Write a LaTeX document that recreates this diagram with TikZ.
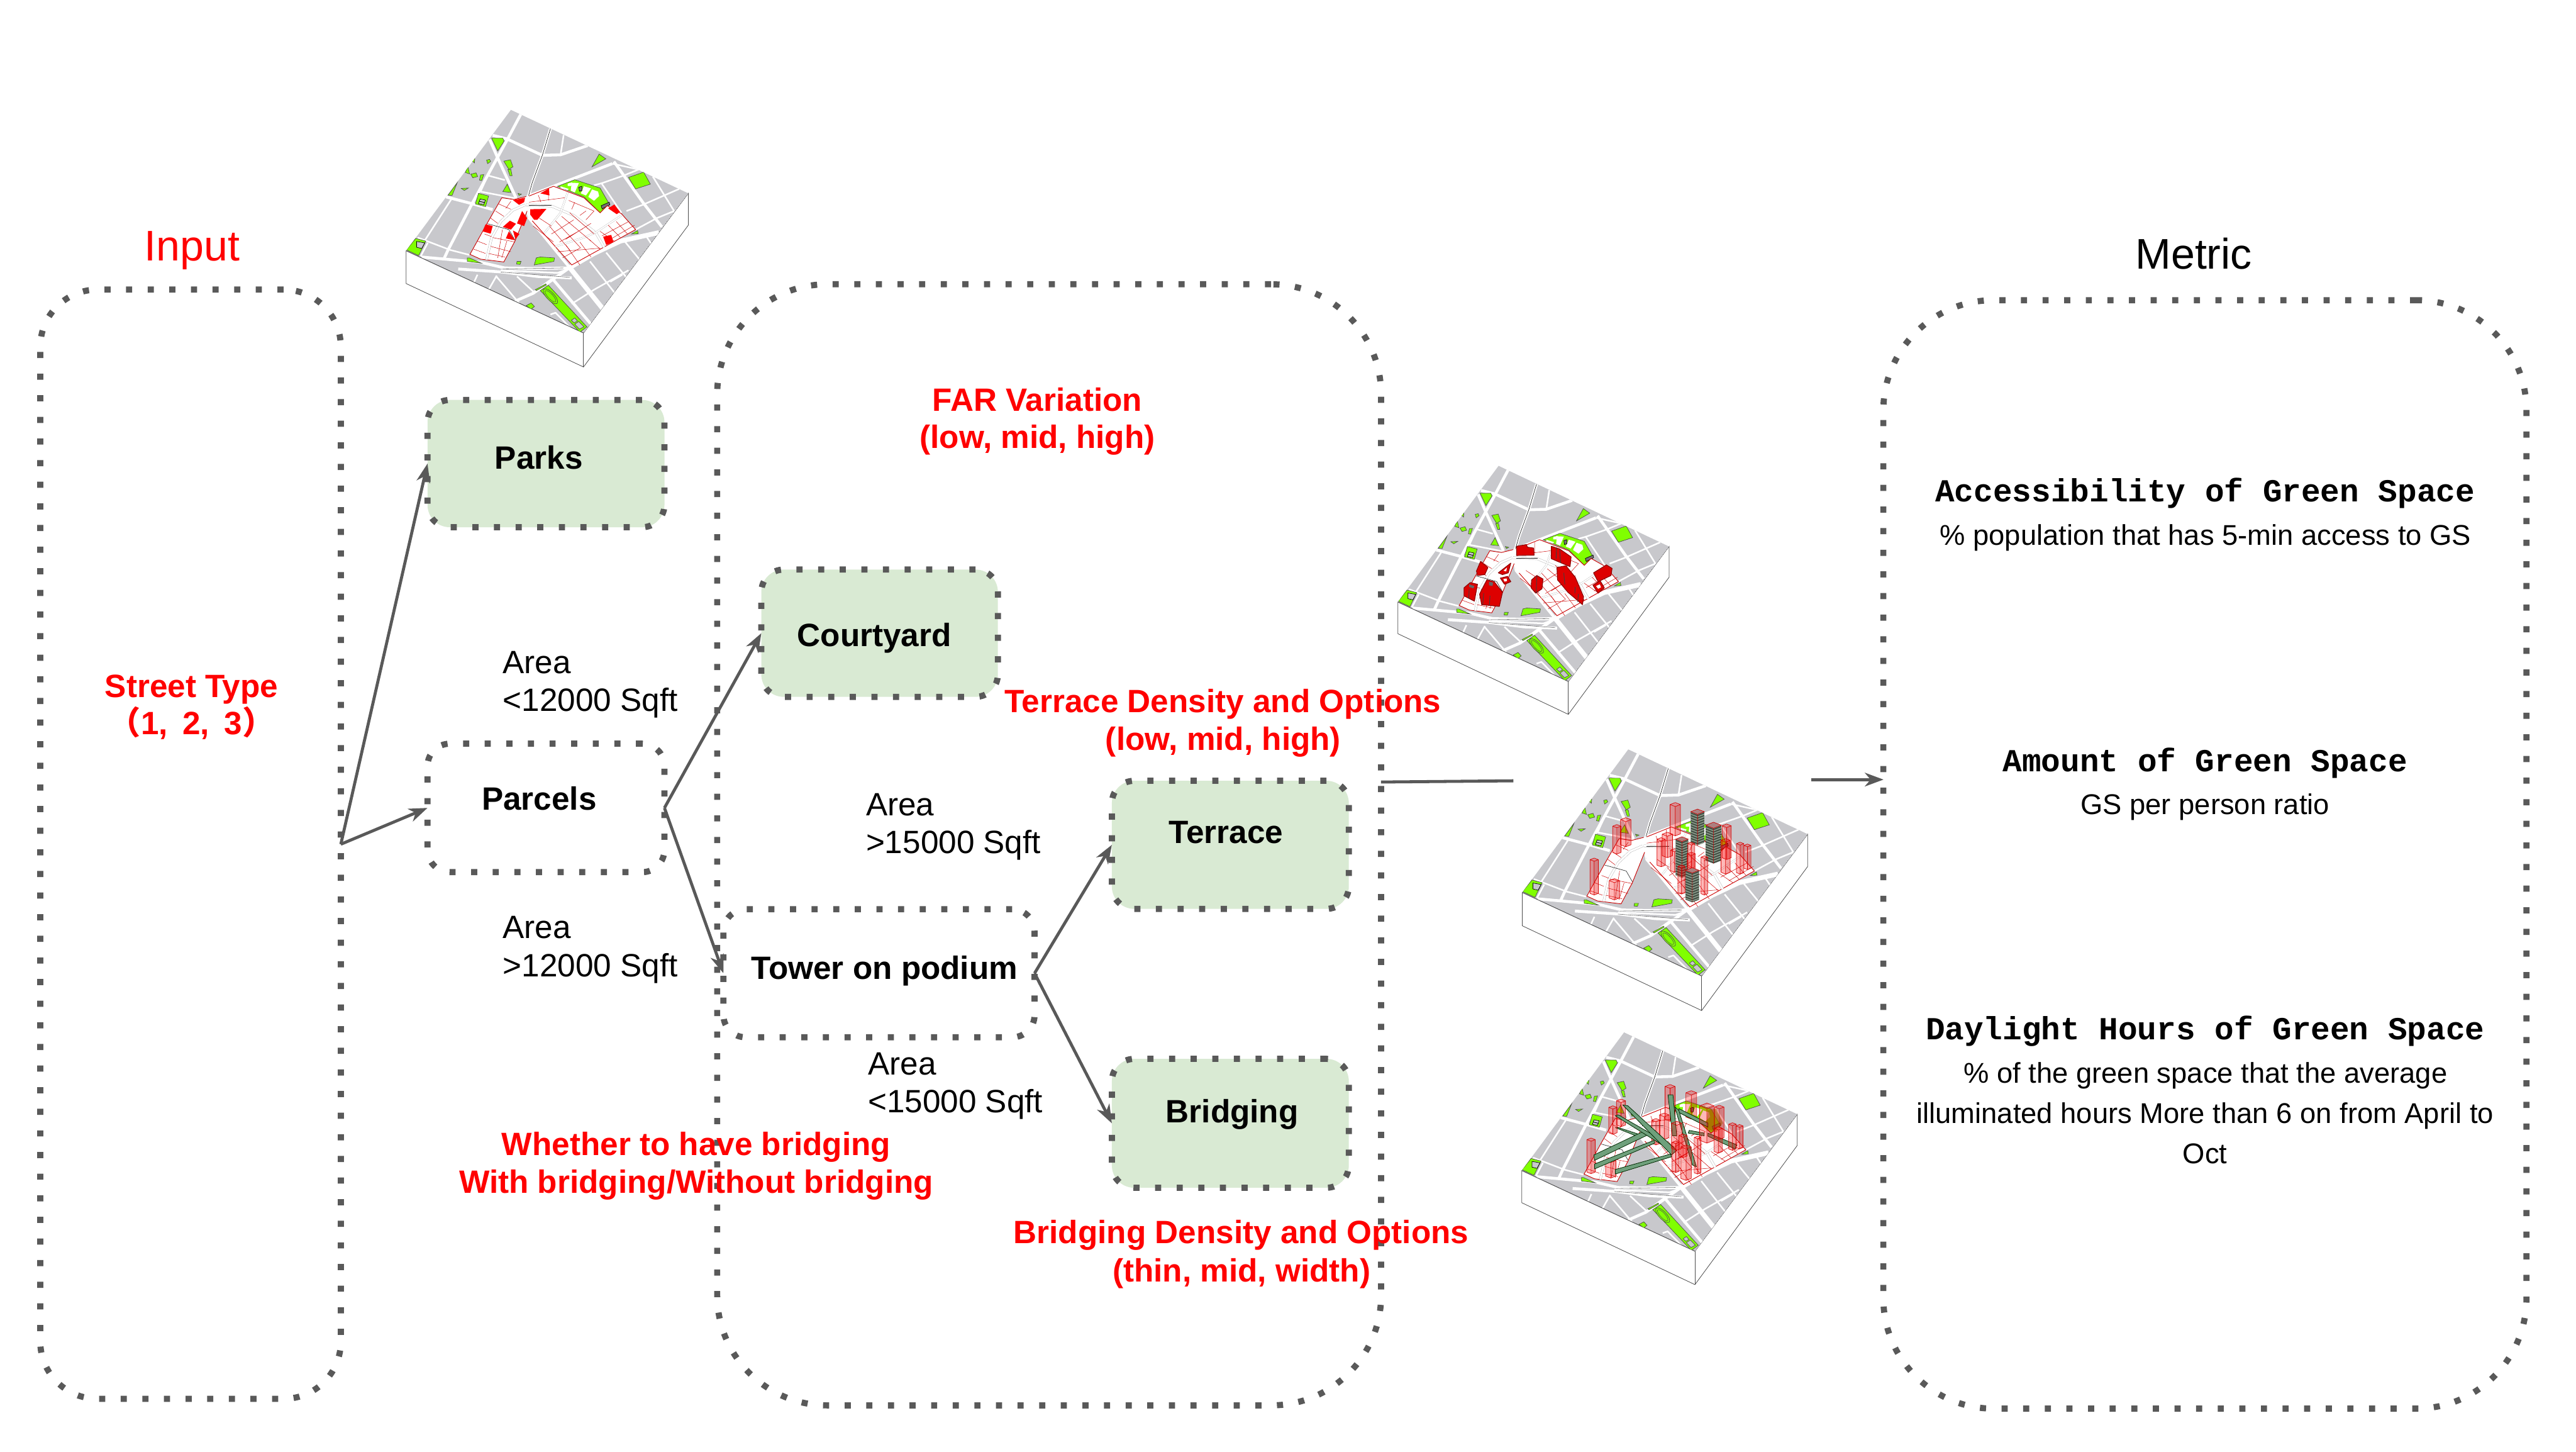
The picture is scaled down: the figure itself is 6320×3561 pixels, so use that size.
\documentclass[tikz,border=0pt]{standalone}
\usepackage{fontspec}
\setmainfont{Liberation Sans}
\newfontfamily\monof{Liberation Mono}
\newfontfamily\cjkf{Noto Sans CJK SC}
\usetikzlibrary{arrows.meta}
\definecolor{linegrey}{HTML}{595959}
\definecolor{boxgreen}{HTML}{D9EAD3}
\definecolor{mapgreen}{HTML}{80FF00}
\definecolor{mapgrey}{HTML}{C8C8CC}
\definecolor{bridgegreen}{HTML}{6FA07C}
\definecolor{bldred}{HTML}{DD0000}
\definecolor{terrdark}{HTML}{465247}
\definecolor{terrlight}{HTML}{9CAE9C}
\tikzset{
  dotbox/.style={draw=linegrey,line width=4.27pt,dash pattern=on 4.27pt off 10.81pt,inner sep=0pt,outer sep=0pt},
  smallbox/.style={dotbox,rounded corners=15.6pt},
  flow/.style={draw=linegrey,line width=2.1pt},
  flowarrow/.style={flow,-{Stealth[length=13pt,width=9.5pt,inset=4pt]}},
  lab/.style={anchor=base,inner sep=0pt,font=\fontsize{22.5pt}{27pt}\selectfont,text=black},
  labl/.style={lab,anchor=base west},
  redb/.style={anchor=base,inner sep=0pt,font=\fontsize{22.5pt}{27pt}\selectfont\bfseries,text=red},
  boldb/.style={anchor=base,inner sep=0pt,font=\fontsize{22.5pt}{27pt}\selectfont\bfseries,text=black},
  title/.style={anchor=base,inner sep=0pt,font=\fontsize{29.9pt}{34pt}\selectfont},
  metrich/.style={anchor=base,inner sep=0pt,font=\monof\fontsize{22.4pt}{27pt}\selectfont\bfseries,text=black},
  metrict/.style={anchor=base,inner sep=0pt,font=\fontsize{19.9pt}{24pt}\selectfont,text=black},
  rdA/.style={draw=white,line width=3.3pt,line join=round},
  rdB/.style={draw=white,line width=2pt,line join=round},
  rdC/.style={draw=white,line width=1.1pt,line join=round},
  gp/.style={fill=mapgreen,draw=black!70,line width=.3pt},
  gridl/.style={draw=red!80!black,line width=.22pt},
  bld/.style={fill=bldred,draw=red!55!black,line width=.5pt,line join=round},
  brd/.style={fill=bridgegreen,draw=black!60!green!40!black,line width=.35pt,line join=round},
}
% base of every isometric block, in coordinates of a 1568-wide crop
\newcommand\citybase{%
  \draw[fill=white,draw=black!70,line width=.35pt] (73,865)--(73,1050)--(948,1522)--(1465,720)--(1465,540)--(948,1330)--cycle;
  \draw[black!70,line width=.35pt] (948,1330)--(948,1522);
  \begin{scope}
    \clip (590,68)--(1465,540)--(948,1330)--(73,865)--cycle;
    \fill[mapgrey] (590,68)--(1465,540)--(948,1330)--(73,865)--cycle;
    % main roads
    \draw[rdB] (640,90)--(575,230)--(520,345)--(400,595)--(280,860)--(258,915);
    \draw[rdB] (485,235)--(525,340)--(615,565);
    \draw[rdB] (500,212)--(570,232)--(745,325)--(835,322)--(968,270);
    \draw[rdB] (785,175)--(745,325)--(695,480)--(668,590)--(680,680)--(880,960);
    \draw[rdA] (880,960)--(1045,1195);
    \draw[rdC] (850,210)--(835,322);
    \draw[rdB] (670,558)--(800,500)--(1090,372);
    \draw[rdC] (1090,372)--(1220,405);
    \draw[rdB] (1098,360)--(1240,590)--(1335,730);
    \draw[rdC] (1220,405)--(1145,440)--(1040,482)--(1000,495);
    \draw[rdC] (1035,480)--(1135,650);
    \draw[rdC] (1420,515)--(1240,605)--(1160,640);
    \draw[rdC] (1395,640)--(1310,680)--(1205,745);
    \draw[rdA] (1320,762)--(1130,810)--(1000,880)--(880,960);
    \draw[rdB] (880,960)--(700,1105)--(610,1150);
    \draw[rdC] (1290,445)--(1395,640);
    \draw[rdC] (1250,770)--(1285,830);
    \draw[rdC] (1150,810)--(1225,915);
    \draw[rdC] (1060,875)--(1170,1030);
    \draw[rdC] (980,925)--(1100,1100);
    \draw[rdC] (1170,975)--(1000,1085)--(890,1165);
    \draw[rdC] (1140,1000)--(1080,1040);
    \draw[rdC] (130,790)--(290,860)--(385,888);
    \draw[rdB] (270,560)--(410,602)--(500,632);
    \draw[rdC] (295,575)--(135,860);
    \draw[rdC] (180,820)--(145,895);
    \draw[rdC] (440,530)--(620,570);
    \draw[rdC] (480,440)--(560,465);
    \draw[rdC] (500,380)--(440,530);
    \draw[rdB] (148,900)--(440,930)--(560,962)--(700,965)--(880,962);
    \draw[rdB] (330,968)--(550,985)--(720,1010)--(890,1018);
    \draw[rdC] (540,975)--(820,990)--(880,965);
    \draw[rdC] (425,1000)--(405,1050);
    \draw[rdC] (520,1005)--(480,1085);
    \draw[rdC] (518,1010)--(630,1160);
    \draw[rdC] (620,1010)--(700,1095);
    \draw[rdC] (700,1100)--(790,1025);
    \draw[rdC] (785,1225)--(810,1215)--(900,1320);
    \draw[rdB] (800,1030)--(985,1280);
    % dark edges
    \draw[black!85,line width=.3pt] (785,175)--(745,325)--(695,480)--(668,590)--(680,680);
    \draw[black!80,line width=.45pt] (73,865)--(948,1330);
    \draw[black!60,line width=.25pt] (550,968)--(850,962) (540,985)--(880,1015);
    % parks
    \path[gp] (495,228)--(550,228)--(556,245)--(525,300)--cycle;
    \path[gp] (555,358)--(588,350)--(600,390)--(580,405)--cycle;
    \path[gp] (575,405)--(590,405)--(596,440)--(585,440)--cycle;
    \path[gp] (470,352)--(485,348)--(490,360)--(475,372)--cycle;
    \path[gp] (392,432)--(418,424)--(426,445)--(402,452)--cycle;
    \path[gp] (440,436)--(456,434)--(446,468)--(435,465)--cycle;
    \path[gp] (365,422)--(378,390)--(386,430)--cycle;
    \path[gp] (395,352)--(412,345)--(410,368)--cycle;
    \path[gp] (280,550)--(325,480)--(300,552)--cycle;
    \path[gp] (345,512)--(380,510)--(360,524)--cycle;
    \path[gp] (550,530)--(572,488)--(590,535)--cycle;
    \path[gp] (625,540)--(642,545)--(630,552)--cycle;
    \path[gp] (430,540)--(480,555)--(465,615)--(415,600)--cycle;
    \draw[fill=mapgrey,draw=black,line width=.3pt] (438,572)--(464,578)--(456,604)--(430,598)--cycle;
    \draw[black,line width=.4pt] (434,585)--(460,592);
    \path[gp] (1025,318)--(1058,345)--(990,390)--cycle;
    \path[gp] (1170,450)--(1245,420)--(1278,488)--(1205,515)--cycle;
    \path[gp] (820,500)--(905,463)--(1030,510)--(1075,600)--(1030,650)--(950,560)--cycle;
    \fill[white] (890,480)--(925,482)--(905,535)--(885,525)--cycle;
    \fill[white] (950,500)--(985,512)--(960,552)--(935,540)--cycle;
    \fill[white] (990,518)--(1020,530)--(1025,555)--(1000,582)--(972,560)--cycle;
    \fill[white] (835,500)--(875,515)--(870,522)--(835,510)--cycle;
    \fill[white] (870,485)--(892,478)--(888,498)--(870,498)--cycle;
    \draw[fill=black!55,draw=black,line width=.3pt] (1035,610)--(1075,590)--(1078,605)--(1040,628)--cycle;
    \draw[fill=black!55,draw=black,line width=.3pt] (925,505)--(940,500)--(940,525)--(928,528)--cycle;
    \path[gp] (75,860)--(120,795)--(170,810)--(135,892)--cycle;
    \draw[fill=mapgrey,draw=black,line width=.3pt] (125,812)--(165,820)--(150,852)--(125,845)--cycle;
    \path[gp] (375,905)--(385,905)--(445,935)--(375,925)--cycle;
    \path[gp] (425,900)--(436,870)--(442,905)--cycle;
    \path[gp] (620,925)--(640,925)--(635,942)--(618,940)--cycle;
    \path[gp] (715,905)--(735,900)--(805,905)--(802,925)--(705,945)--cycle;
    \path[gp] (665,1175)--(690,1160)--(706,1180)--(690,1195)--cycle;
    \path[gp] (735,1090)--(775,1060)--(965,1295)--(930,1325)--cycle;
    \draw[fill=mapgreen,draw=black!70,line width=.3pt,rotate around={-52:(785,1122)}] (785,1122) ellipse (52 and 20);
    \draw[fill=mapgreen,draw=black!70,line width=.25pt,rotate around={-52:(785,1122)}] (785,1122) ellipse (40 and 13);
    \draw[fill=mapgrey,draw=black!70,line width=.3pt] (888,1258)--(905,1245)--(918,1262)--(902,1272)--cycle;
    \draw[fill=mapgrey,draw=black!70,line width=.3pt] (905,1280)--(925,1265)--(950,1295)--(928,1308)--cycle;
    \path[gp] (1185,770)--(1215,750)--(1218,768)--cycle;
    \path[gp] (710,1085)--(762,1052)--(765,1058)--(716,1090)--cycle;
    % the site
    \fill[white] (545,565)--(605,575)--(665,558)--(800,500)--(870,530)--(950,565)--(1030,650)--(1065,610)--(1135,655)--(1205,745)--(890,945)--(680,690)--(670,635)--(610,810)--(555,928)--(440,912)--(388,885)--(470,715)--cycle;
    \draw[red!80!black,line width=.4pt] (545,565)--(605,575)--(665,558);
    \draw[red!80!black,line width=.4pt] (680,555)--(800,500)--(950,565)--(1030,650)--(1065,610)--(1135,655)--(1205,745)--(890,945)--(695,695);
    \draw[red!80!black,line width=.4pt] (670,640)--(610,810)--(555,928)--(440,912)--(388,885)--(470,715)--(545,565);
    % internal streets of the site
    \draw[black!30,line width=1.7pt] (665,605)--(790,612)--(900,665)--(1010,765)--(1050,845);
    \draw[white,line width=1.3pt] (665,605)--(790,612)--(900,665)--(1010,765)--(1050,845);
    \draw[black!30,line width=1.2pt] (810,840)--(950,790)--(1010,760)--(1135,665);
    \draw[white,line width=.9pt] (810,840)--(950,790)--(1010,760)--(1135,665);
    \draw[black!30,line width=1.2pt] (870,535)--(835,650)--(755,765);
    \draw[white,line width=.9pt] (870,535)--(835,650)--(755,765);
    \draw[black!30,line width=1.7pt] (660,605)--(600,635)--(540,700)--(495,790)--(470,915);
    \draw[white,line width=1.3pt] (660,605)--(600,635)--(540,700)--(495,790)--(470,915);
    \draw[black!80,line width=.3pt] (680,607)--(790,607);
    \draw[black!80,line width=.3pt] (475,712)--(580,745)--(610,805);
    % parcel grid
    \draw[gridl] (530,600)--(590,630) (515,640)--(555,670) (490,680)--(525,710) (590,585)--(565,625);
    \draw[gridl] (460,770)--(495,785) (425,810)--(470,830) (405,855)--(465,880);
    \draw[gridl] (500,790)--(610,815) (490,840)--(590,870) (480,880)--(560,900);
    \draw[gridl] (548,745)--(525,905) (570,810)--(545,905);
    \draw[gridl] (680,590)--(855,565) (725,550)--(738,590) (775,515)--(775,580);
    \draw[gridl] (700,725)--(800,815) (730,680)--(790,725);
    \draw[gridl] (780,725)--(880,860) (810,695)--(935,850) (840,670)--(985,810) (880,650)--(1000,770);
    \draw[gridl] (790,770)--(900,690) (830,815)--(945,740) (860,800)--(985,710);
    \draw[gridl] (875,580)--(1000,640) (905,590)--(890,630) (960,640)--(930,665) (1000,640)--(960,690);
    \draw[gridl] (820,870)--(1030,850) (845,905)--(930,850) (860,830)--(930,945) (930,815)--(985,900) (975,800)--(1030,855);
    \draw[gridl] (1030,755)--(1100,810) (1070,720)--(1130,790) (1110,700)--(1165,770) (1040,780)--(1170,700) (1080,800)--(1200,720);
  \end{scope}
}
% a glass tower: x, top y, width, bottom y
\newcommand\glasst[4]{%
  \pgfmathsetmacro\twhw{#3/2}\pgfmathsetmacro\twd{#3*0.22}%
  \fill[red,fill opacity=.28] (#1,#2)--({#1+\twhw},{#2+\twd})--({#1+\twhw},{#4-\twd})--(#1,#4)--({#1-\twhw},{#4-\twd})--({#1-\twhw},{#2+\twd})--cycle;
  \fill[red!70!black,fill opacity=.12] (#1,{#2+2*\twd})--({#1+\twhw},{#2+\twd})--({#1+\twhw},{#4-\twd})--(#1,#4)--cycle;
  \draw[red!85!black,line width=.3pt,line join=round] (#1,#2)--({#1+\twhw},{#2+\twd})--({#1+\twhw},{#4-\twd})--(#1,#4)--({#1-\twhw},{#4-\twd})--({#1-\twhw},{#2+\twd})--cycle (#1,{#2+2*\twd})--(#1,#4) ({#1-\twhw},{#2+\twd})--(#1,{#2+2*\twd})--({#1+\twhw},{#2+\twd});
}
% a terraced tower: x, top y, width, bottom y
\newcommand\terrt[4]{%
  \pgfmathsetmacro\twhw{#3/2}\pgfmathsetmacro\twd{#3*0.22}\pgfmathtruncatemacro\twlast{(#4-#2-2*\twd)/14}%
  \fill[terrdark] ({#1+\twhw},{#2+\twd})--({#1+\twhw},{#4-\twd})--(#1,#4)--({#1-\twhw},{#4-\twd})--({#1-\twhw},{#2+\twd})--cycle;
  \foreach \twk in {0,...,\twlast}{%
    \draw[terrlight,line width=.5pt] ({#1-\twhw},{#2+14*\twk+\twd})--(#1,{#2+14*\twk+2*\twd})--({#1+\twhw},{#2+14*\twk+\twd});
  }
  \fill[red!35!black!50!white] (#1,#2)--({#1+\twhw},{#2+\twd})--(#1,{#2+2*\twd})--({#1-\twhw},{#2+\twd})--cycle;
  \draw[red!80!black,line width=.3pt] (#1,#2)--({#1+\twhw},{#2+\twd})--(#1,{#2+2*\twd})--({#1-\twhw},{#2+\twd})--cycle (#1,{#2+2*\twd})--(#1,#4);
}
\begin{document}
\begin{tikzpicture}[x=0.01cm,y=-0.01cm]
\useasboundingbox (0,0) rectangle (6320,3561);
\fill[white] (0,0) rectangle (6320,3561);

% ---- group boxes
\node[dotbox,rounded corners=40pt,minimum width=7.37cm,minimum height=27.19cm] (input) at (467.5,2070.5) {};
\node[dotbox,rounded corners=76.8pt,minimum width=16.28cm,minimum height=27.48cm] (design) at (2574,2072) {};
\node[dotbox,rounded corners=77pt,minimum width=15.77cm,minimum height=27.17cm] (metric) at (5409.5,2095.5) {};

% ---- small boxes
\node[smallbox,fill=boxgreen,minimum width=5.81cm,minimum height=3.12cm] (parks) at (1339.5,1137) {};
\node[smallbox,minimum width=5.81cm,minimum height=3.15cm] (parcels) at (1339.5,1981.5) {};
\node[smallbox,fill=boxgreen,minimum width=5.80cm,minimum height=3.12cm] (courtyard) at (2158,1553) {};
\node[smallbox,minimum width=7.63cm,minimum height=3.14cm] (tower) at (2156.5,2387) {};
\node[smallbox,fill=boxgreen,minimum width=5.81cm,minimum height=3.14cm] (terrace) at (3018.5,2072) {};
\node[smallbox,fill=boxgreen,minimum width=5.81cm,minimum height=3.16cm] (bridging) at (3018.5,2755) {};

% ---- isometric maps
\begin{scope}[shift={(960,240)},xscale=.4974,yscale=.4337]
  \citybase
  \fill[red] (600,578)--(660,565)--(655,590)--(630,605)--cycle;
  \fill[red] (735,540)--(778,512)--(780,552)--cycle;
  \fill[red] (685,630)--(765,628)--(720,690)--(705,690)--(685,660)--cycle;
  \fill[red] (550,730)--(585,695)--(615,712)--(590,745)--cycle;
  \fill[red] (620,710)--(645,640)--(670,680)--(655,725)--cycle;
  \fill[red] (450,755)--(465,715)--(500,725)--(490,768)--cycle;
  \fill[red] (600,750)--(632,770)--(612,800)--cycle;
  \fill[red] (565,795)--(580,755)--(610,805)--cycle;
  \fill[red] (1045,785)--(1085,775)--(1095,815)--(1060,832)--cycle;
  \fill[red] (1070,625)--(1100,603)--(1128,645)--(1112,658)--cycle;
\end{scope}

\begin{scope}[shift={(3394.6,1114)},xscale=.478,yscale=.4192]
  \citybase
\end{scope}
\begin{scope}[shift={(3380,1110)},xscale=.5102,yscale=.4337]
  \path[bld] (668,530)--(715,520)--(720,535)--(750,540)--(752,580)--(668,582)--cycle;
  \path[bld] (495,615)--(530,650)--(515,690)--(480,695)--(475,670)--cycle;
  \path[bld] (580,680)--(640,625)--(628,680)--(600,690)--cycle;
  \fill[white] (605,668)--(622,650)--(618,672)--cycle;
  \path[bld] (590,710)--(625,700)--(640,730)--(610,745)--cycle;
  \fill[white] (604,715)--(620,712)--(622,726)--(610,730)--cycle;
  \path[bld] (415,765)--(445,735)--(480,745)--(465,840)--(415,810)--cycle;
  \path[bld] (490,800)--(525,720)--(560,730)--(600,790)--(585,870)--(500,860)--cycle;
  \path[bld] (835,530)--(875,545)--(930,590)--(925,645)--(835,600)--cycle;
  \path[bld] (862,650)--(905,640)--(950,705)--(990,815)--(985,860)--(915,790)--(865,720)--cycle;
  \path[bld] (740,720)--(765,695)--(795,715)--(790,770)--(760,795)--(738,765)--cycle;
  \path[bld] (1038,680)--(1100,635)--(1127,655)--(1122,695)--(1060,730)--cycle;
  \path[bld] (1035,750)--(1070,725)--(1090,765)--(1060,795)--cycle;
  \fill[white] (1050,755)--(1068,745)--(1074,762)--(1060,770)--cycle;
  \draw[black!75,line width=.4pt] (765,700)--(762,795) (875,550)--(880,625) (895,680)--(900,745) (510,795)--(505,860) (540,810)--(537,865) (440,770)--(438,825) (860,535)--(858,600) (950,760)--(948,795) (965,800)--(962,845);
  \fill[black!60] (535,730)--(555,735)--(552,755)--(535,750)--cycle;
  \fill[black!60] (440,745)--(465,755)--(460,768)--(440,760)--cycle;
\end{scope}

\begin{scope}[shift={(3698,1808)},xscale=.503,yscale=.4405]
  \citybase
\end{scope}
\begin{scope}[shift={(3680,1800)},xscale=.5102,yscale=.4464]
  \glasst{843}{377}{50}{560}
  \glasst{605}{460}{50}{620}
  \glasst{562}{498}{40}{660}
  \glasst{453}{682}{40}{885}
  \glasst{550}{795}{50}{912}
  \glasst{775}{570}{40}{730}
  \glasst{805}{540}{50}{680}
  \glasst{840}{630}{40}{760}
  \terrt{950}{413}{65}{612}
  \terrt{1027}{485}{75}{712}
  \glasst{1090}{495}{44}{690}
  \glasst{1085}{575}{44}{770}
  \glasst{1155}{595}{36}{770}
  \glasst{1190}{605}{34}{745}
  \terrt{875}{565}{60}{790}
  \glasst{920}{595}{34}{740}
  \glasst{920}{650}{40}{800}
  \glasst{983}{670}{32}{885}
  \glasst{873}{720}{34}{880}
  \terrt{925}{735}{65}{925}
\end{scope}

\begin{scope}[shift={(3698,2503)},xscale=.4856,yscale=.4255]
  \citybase
\end{scope}
\begin{scope}[shift={(3680,2500)},xscale=.5102,yscale=.4464]
  \glasst{818}{358}{48}{560}
  \glasst{920}{392}{52}{548}
  \fill[olive,fill opacity=.55] (1000,500)--(1040,490)--(1072,570)--(1040,620)--(990,600)--cycle;
  \glasst{750}{545}{40}{690}
  \glasst{790}{515}{46}{660}
  \path[brd] (555,595)--(570,595)--(692,640)--(680,652)--cycle;
  \path[brd] (860,490)--(1000,570)--(1000,592)--(860,512)--cycle;
  \path[brd] (910,610)--(982,625)--(982,640)--(905,625)--cycle;
  \path[brd] (1000,625)--(1140,690)--(1130,712)--(1000,642)--cycle;
  \glasst{995}{460}{70}{680}
  \glasst{1055}{472}{44}{660}
  \glasst{1050}{590}{40}{735}
  \glasst{1118}{568}{36}{720}
  \glasst{1152}{578}{34}{712}
  \glasst{582}{438}{44}{590}
  \glasst{543}{475}{40}{632}
  \glasst{438}{652}{40}{848}
  \glasst{533}{765}{50}{872}
  \path[brd] (555,825)--(820,740)--(825,755)--(555,850)--cycle;
  \path[brd] (455,795)--(740,665)--(745,680)--(455,822)--cycle;
  \path[brd] (452,745)--(700,610)--(720,630)--(455,775)--cycle;
  \path[brd] (555,530)--(570,525)--(835,700)--(825,722)--cycle;
  \path[brd] (590,470)--(615,475)--(850,720)--(825,745)--cycle;
  \path[brd] (808,415)--(832,415)--(850,640)--(830,640)--cycle;
  \path[brd] (840,480)--(860,500)--(945,810)--(925,800)--cycle;
  \glasst{850}{560}{50}{720}
  \glasst{880}{630}{40}{760}
  \glasst{950}{642}{32}{850}
  \glasst{845}{668}{34}{842}
  \glasst{895}{690}{50}{885}
\end{scope}

% ---- connectors
\coordinate (barstart) at (3388,1918);
\coordinate (barend) at (3713,1915);
\coordinate (outstart) at (4444,1912);
\coordinate (outend) at (4621,1912);
\draw[flowarrow] (input.east) -- (parks.west);
\draw[flowarrow] (input.east) -- (parcels.west);
\draw[flowarrow] (parcels.east) -- (courtyard.west);
\draw[flowarrow] (parcels.east) -- (tower.west);
\draw[flowarrow] (tower.east) -- (terrace.west);
\draw[flowarrow] (tower.east) -- (bridging.west);
\draw[flow] (barstart) -- (barend);
\draw[flowarrow] (outstart) -- (outend);

% ---- texts
\node[title,text=red] (tinput) at (471,640) {Input};
\node[title,text=black] (tmetric) at (5382,660) {Metric};
\node[redb] (st1) at (470,1711) {Street Type};
\node[redb] (st2) at (470,1802) {{\cjkf （}1,\kern4pt\ 2,\kern4pt\ 3{\cjkf ）}};
\node[boldb] (tparks) at (1322,1151) {Parks};
\node[boldb] (tparcels) at (1323,1986) {Parcels};
\node[boldb] (tcourt) at (2145,1586) {Courtyard};
\node[boldb] (ttower) at (2170,2401) {Tower on podium};
\node[boldb] (tterr) at (3008,2069) {Terrace};
\node[boldb] (tbrid) at (3023,2753) {Bridging};
\node[labl] (a1) at (1233,1651) {Area};
\node[labl] (a2) at (1233,1745) {<12000 Sqft};
\node[labl] (b1) at (1233,2302) {Area};
\node[labl] (b2) at (1233,2395) {>12000 Sqft};
\node[labl] (c1) at (2124,2000) {Area};
\node[labl] (c2) at (2124,2093) {>15000 Sqft};
\node[labl] (d1) at (2129,2636) {Area};
\node[labl] (d2) at (2129,2729) {<15000 Sqft};
\node[redb] (far1) at (2545,1008) {FAR Variation};
\node[redb] (far2) at (2545,1100) {(low, mid, high)};
\node[redb] (ter1) at (3000,1748) {Terrace Density and Options};
\node[redb] (ter2) at (3001,1840) {(low, mid, high)};
\node[redb] (wh1) at (1708,2833) {Whether to have bridging};
\node[redb] (wh2) at (1708,2926) {With bridging/Without bridging};
\node[redb] (bd1) at (3045,3050) {Bridging Density and Options};
\node[redb] (bd2) at (3046,3143) {(thin, mid, width)};
\node[metrich] (m1) at (5410,1231) {Accessibility of Green Space};
\node[metrict] (m1a) at (5411,1337) {\% population that has 5-min access to GS};
\node[metrich] (m2) at (5410,1892) {Amount of Green Space};
\node[metrict] (m2a) at (5410,1997) {GS per person ratio};
\node[metrich] (m3) at (5410,2550) {Daylight Hours of Green Space};
\node[metrict] (m3a) at (5411,2656) {\% of the green space that the average};
\node[metrict] (m3b) at (5410,2755) {illuminated hours More than 6 on from April to};
\node[metrict] (m3c) at (5410,2853) {Oct};
\end{tikzpicture}
\end{document}
